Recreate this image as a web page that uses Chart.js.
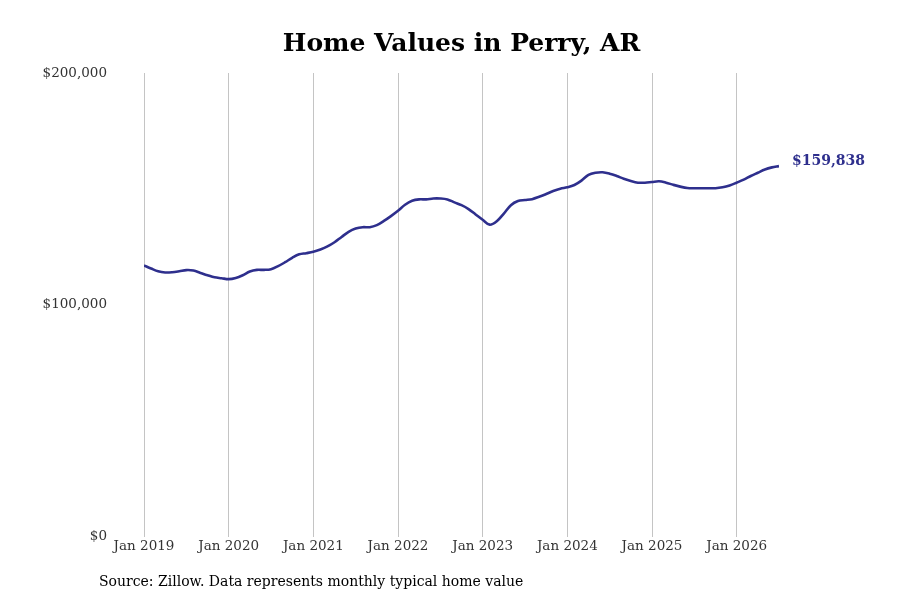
<!DOCTYPE html>
<html>
<head>
<meta charset="utf-8">
<script src="https://cdn.jsdelivr.net/npm/chart.js@4"></script>
<style>
  html, body { margin: 0; padding: 0; background: #fff; }
  #wrap { width: 900px; height: 600px; position: relative; }
</style>
</head>
<body>
<div id="wrap"><canvas id="homeChart" width="900" height="600"></canvas></div>
<script>
// ticks shown on the x axis, one every 12 months starting Jan 2019
const tickLabels = ['Jan 2019', 'Jan 2020', 'Jan 2021', 'Jan 2022', 'Jan 2023', 'Jan 2024', 'Jan 2025', 'Jan 2026'];
const yTicks = [0, 100000, 200000];

// monthly typical home value, Jan 2019 .. Jul 2026
const values2019 = [117000, 115700, 114500, 114000, 114100, 114500, 115000, 114800, 113800, 112800, 111900, 111500];
const values2020 = [111100, 111600, 112800, 114400, 115100, 115100, 115400, 116700, 118400, 120300, 121800, 122300];
const values2021 = [122900, 123900, 125200, 127000, 129300, 131500, 132900, 133500, 133500, 134400, 136200, 138300];
const values2022 = [140600, 143200, 144900, 145500, 145500, 145900, 145900, 145500, 144200, 143000, 141300, 139000];
const values2023 = [136700, 134600, 136100, 139400, 143000, 144800, 145200, 145600, 146600, 147800, 149100, 150100];
const values2024 = [150700, 151700, 153600, 156100, 157000, 157200, 156600, 155600, 154400, 153400, 152700, 152700];
const values2025 = [153000, 153300, 152700, 151800, 151000, 150400, 150300, 150300, 150300, 150300, 150700, 151500];
const values2026 = [152700, 154000, 155600, 157000, 158400, 159300, 159838];

const homeValues = [].concat(values2019, values2020, values2021, values2022, values2023, values2024, values2025, values2026);

const lineColor = '#2e2f8d';
const fontFamily = '"DejaVu Serif", serif';

const fmtMoney = (v) => '$' + Math.round(v).toLocaleString('en-US');

// end label + source note
const extras = {
  id: 'extras',
  afterDraw(chart) {
    const { ctx, scales } = chart;
    const lastIdx = homeValues.length - 1;
    const x = scales.x.getPixelForValue(lastIdx);
    const y = scales.y.getPixelForValue(homeValues[lastIdx]);
    ctx.save();
    ctx.fillStyle = lineColor;
    ctx.font = 'bold 14px ' + fontFamily;
    ctx.textAlign = 'left';
    ctx.textBaseline = 'middle';
    ctx.fillText(fmtMoney(homeValues[lastIdx]), x + 13, y - 5);

    ctx.fillStyle = '#000';
    ctx.font = '14px ' + fontFamily;
    ctx.fillText('Source: Zillow. Data represents monthly typical home value', 99, 582);
    ctx.restore();
  }
};

new Chart(document.getElementById('homeChart'), {
  type: 'line',
  data: {
    datasets: [{
      data: homeValues.map((v, i) => ({ x: i, y: v })),
      borderColor: lineColor,
      borderWidth: 2.6,
      pointRadius: 0,
      tension: 0.35,
      fill: false
    }]
  },
  options: {
    responsive: false,
    animation: false,
    layout: { padding: { left: 0, right: 121, top: 0, bottom: 43 } },
    plugins: {
      legend: { display: false },
      tooltip: { enabled: false },
      title: {
        display: true,
        fullSize: false,
        text: 'Home Values in Perry, AR',
        color: '#000',
        font: { family: fontFamily, size: 25, weight: 'bold' },
        padding: { top: 29, bottom: 14 }
      }
    },
    scales: {
      x: {
        type: 'linear',
        min: 0,
        max: homeValues.length - 1,
        afterBuildTicks: (scale) => {
          scale.ticks = tickLabels.map((_, i) => ({ value: i * 12 }));
        },
        ticks: {
          callback: (v) => tickLabels[v / 12],
          color: '#333',
          font: { family: fontFamily, size: 13.5 },
          padding: 2,
          maxRotation: 0,
          autoSkip: false
        },
        grid: { display: true, color: '#c4c4c4', lineWidth: 1, drawTicks: false },
        border: { display: false }
      },
      y: {
        min: 0,
        max: 200000,
        afterBuildTicks: (scale) => {
          scale.ticks = yTicks.map((v) => ({ value: v }));
        },
        afterFit: (scale) => { scale.width = 144; },
        ticks: {
          callback: (v) => fmtMoney(v),
          color: '#333',
          font: { family: fontFamily, size: 13.5 },
          padding: 37
        },
        grid: { display: false, drawTicks: false },
        border: { display: false }
      }
    }
  },
  plugins: [extras]
});
</script>
</body>
</html>
